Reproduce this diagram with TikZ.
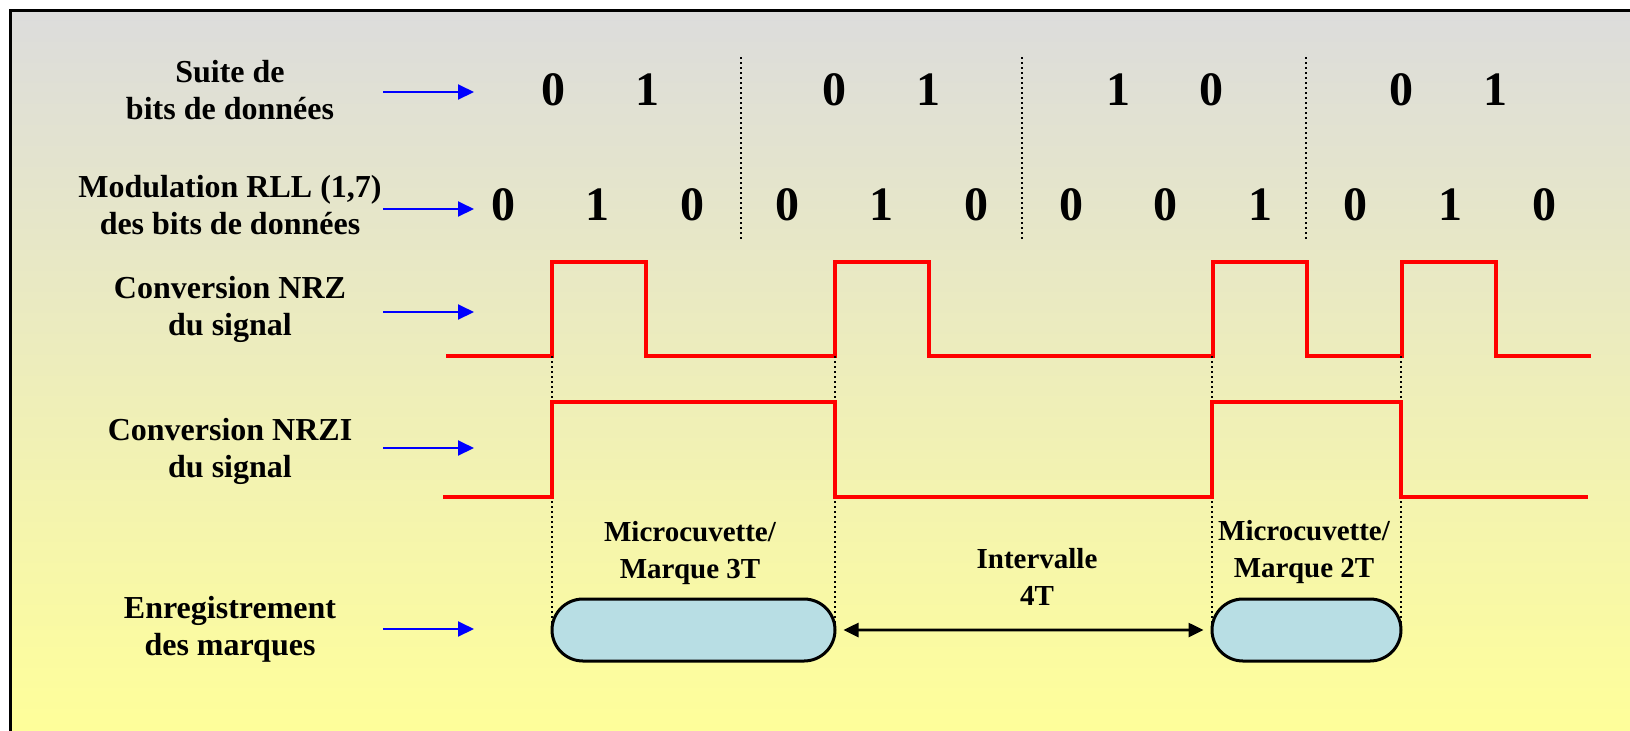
\documentclass[tikz,border=0pt]{standalone}
\usepackage{fontspec}
\setmainfont{Liberation Serif}
\usetikzlibrary{arrows.meta,shapes.misc}
\definecolor{topgray}{RGB}{220,220,220}
\definecolor{botyellow}{RGB}{255,255,153}
\definecolor{markblue}{RGB}{184,222,228}
\tikzset{
  lbl/.style={align=center,font=\fontsize{16}{18.5}\selectfont\bfseries},
  bit/.style={font=\fontsize{24}{28}\selectfont\bfseries},
  smalllbl/.style={align=center,font=\fontsize{14.5}{18.5}\selectfont\bfseries},
  ptr/.style={blue,line width=1pt,-{Triangle[length=8pt,width=7.5pt]}},
  sig/.style={red,line width=2pt},
  guide/.style={line width=0.7pt,dash pattern=on 0.9pt off 1.6pt},
  cuvette/.style={rounded rectangle,draw,line width=1.5pt,fill=markblue,minimum height=31pt,inner sep=0pt}
}
\begin{document}
\begin{tikzpicture}[x=0.5pt,y=-0.5pt]
\useasboundingbox (0,0) rectangle (1630,730);
\clip (0,0) rectangle (1630,730);
\shade[top color=topgray,bottom color=botyellow] (10,10) rectangle (1640,740);
\draw[line width=1.5pt] (1640,10) -- (10,10) -- (10,740);

% libelles a gauche
\node[lbl] (lbits) at (230,90) {Suite de\\bits de données};
\node[lbl] (lrll) at (230,205) {Modulation RLL (1,7)\\des bits de données};
\node[lbl] (lnrz) at (230,309) {Conversion NRZ\\du signal};
\node[lbl] (lnrzi) at (230,451) {Conversion NRZI\\du signal};
\node[lbl] (lmarks) at (230,629) {Enregistrement\\des marques};
\foreach \n/\y in {bits/92,rll/209,nrz/312,nrzi/448,marks/629}
{
    \coordinate (p\n) at (383,\y);
    \coordinate (q\n) at (474,\y);
    \draw[ptr] (p\n) -- (q\n);
}

% bits
\foreach \x/\b [count=\i] in {553/0,647/1,834/0,928/1,1118/1,1211/0,1401/0,1495/1}
    \node[bit] (d\i) at (\x,90) {\b};
\foreach \b [count=\i from 0] in {0,1,0,0,1,0,0,0,1,0,1,0}
    \node[bit] (r\i) at (503+94.7*\i,205) {\b};
\foreach \x in {741,1022,1306}
    \draw[guide] (\x,57) -- (\x,240);

% signaux
\draw[sig] (446,356) -- (552,356) -- (552,262) -- (646,262) -- (646,356) -- (835,356) -- (835,262) -- (929,262) -- (929,356) -- (1213,356) -- (1213,262) -- (1307,262) -- (1307,356) -- (1402,356) -- (1402,262) -- (1496,262) -- (1496,356) -- (1591,356);
\foreach \x in {552,835,1212,1401}
    \draw[guide] (\x,356) -- (\x,630);
\draw[sig] (443,497) -- (552,497) -- (552,402) -- (835,402) -- (835,497) -- (1212,497) -- (1212,402) -- (1401,402) -- (1401,497) -- (1588,497);

% marques
\node[cuvette,minimum width=141.5pt] (m3t) at (693.5,630) {};
\node[cuvette,minimum width=94.5pt] (m2t) at (1306.5,630) {};
\draw[{Triangle[length=7.5pt,width=7pt]}-{Triangle[length=7.5pt,width=7pt]},line width=1.3pt,shorten <=3.5pt,shorten >=3.5pt] (m3t) -- (m2t);
\node[smalllbl] (t3t) at (690,553) {Microcuvette/\\Marque 3T};
\node[smalllbl] (tint) at (1037,577) {Intervalle\\4T};
\node[smalllbl] (t2t) at (1304,552) {Microcuvette/\\Marque 2T};
\end{tikzpicture}
\end{document}
